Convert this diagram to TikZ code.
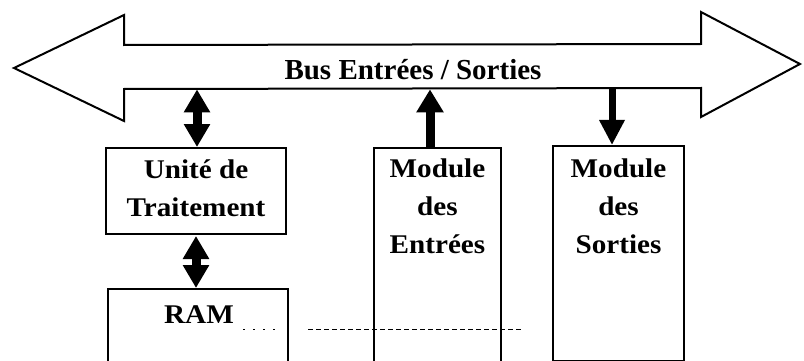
\documentclass[tikz,border=0pt]{standalone}
\usepackage{fontspec}
\setmainfont{Liberation Serif}
\usetikzlibrary{arrows.meta,calc}
\begin{document}
\begin{tikzpicture}[x=1pt,y=-1pt,
  outline/.style={draw=black,line width=2pt,line join=miter},
  unit/.style={outline,anchor=north west,inner sep=0pt,fill=white},
  lbl/.style={inner sep=0pt,align=center,anchor=north,
    font=\fontsize{27}{38}\selectfont\bfseries\addfontfeature{FakeStretch=1.08}},
  busarrow/.style={line width=9pt,-{Triangle[width=26pt,length=23pt]}},
  busdouble/.style={line width=9pt,{Triangle[width=25pt,length=23pt]}-{Triangle[width=25pt,length=23pt]}},
  faint/.style={line width=1pt,dash pattern=on 5pt off 3pt}]
\useasboundingbox (0,0) rectangle (804,361);
\clip (0,0) rectangle (804,361);

% double-headed bus outline
\draw[outline] (14,68) -- (124,15) -- (124,45) -- (701,44) -- (701,12)
  -- (800,64) -- (701,117) -- (701,88) -- (124,89) -- (124,121) -- cycle;
% shaft of the bus, used as the anchor for the connectors
\node[inner sep=0pt,minimum width=577,minimum height=43,anchor=north west]
  (shaft) at (124,45) {};
\node[lbl,font=\fontsize{29}{34}\selectfont\bfseries] (buslbl) at (413,59)
  {Bus Entrées / Sorties};

% blocks
\node[unit,minimum width=180,minimum height=86] (ut) at (105,147) {};
\node[lbl] (utlbl) at ($(ut.north)+(0,13)$) {Unité de\\Traitement};

\node[unit,minimum width=180,minimum height=90] (ram) at (107,288) {};
\node[lbl] (ramlbl) at ($(ram.north)+(1,17)$) {RAM};

\node[unit,minimum width=127,minimum height=216] (me) at (373,147) {};
\node[lbl] (melbl) at ($(me.north)+(0,12)$) {Module\\des\\Entrées};

\node[unit,minimum width=131,minimum height=215] (ms) at (552,145) {};
\node[lbl] (mslbl) at ($(ms.north)+(0,14)$) {Module\\des\\Sorties};

% columns of the connectors
\coordinate (c1) at (197,0);
\coordinate (c2) at (196,0);
\coordinate (c3) at (430,0);
\coordinate (c4) at (612,0);

% connectors
\draw[busdouble] (c1 |- ut.north) -- ($(c1 |- shaft.south)+(0,1)$);
\draw[busdouble] ($(c2 |- ut.south)+(0,1)$) -- (c2 |- ram.north);
\draw[busarrow] (c3 |- me.north) -- ($(c3 |- shaft.south)+(0,1)$);
\draw[line width=7pt,-{Triangle[width=24pt,length=25pt]}]
  ($(c4 |- shaft.south)+(0,1)$) -- (c4 |- ms.north);

% faint trace across the lower blocks
\coordinate (f1) at (243,329);
\coordinate (f2) at (280,329);
\coordinate (f3) at (308,329);
\coordinate (f4) at (523,329);
\draw[line width=1pt,dash pattern=on 2pt off 8pt] (f1) -- (f2);
\draw[faint] (f3) -- (f4);
\end{tikzpicture}
\end{document}
